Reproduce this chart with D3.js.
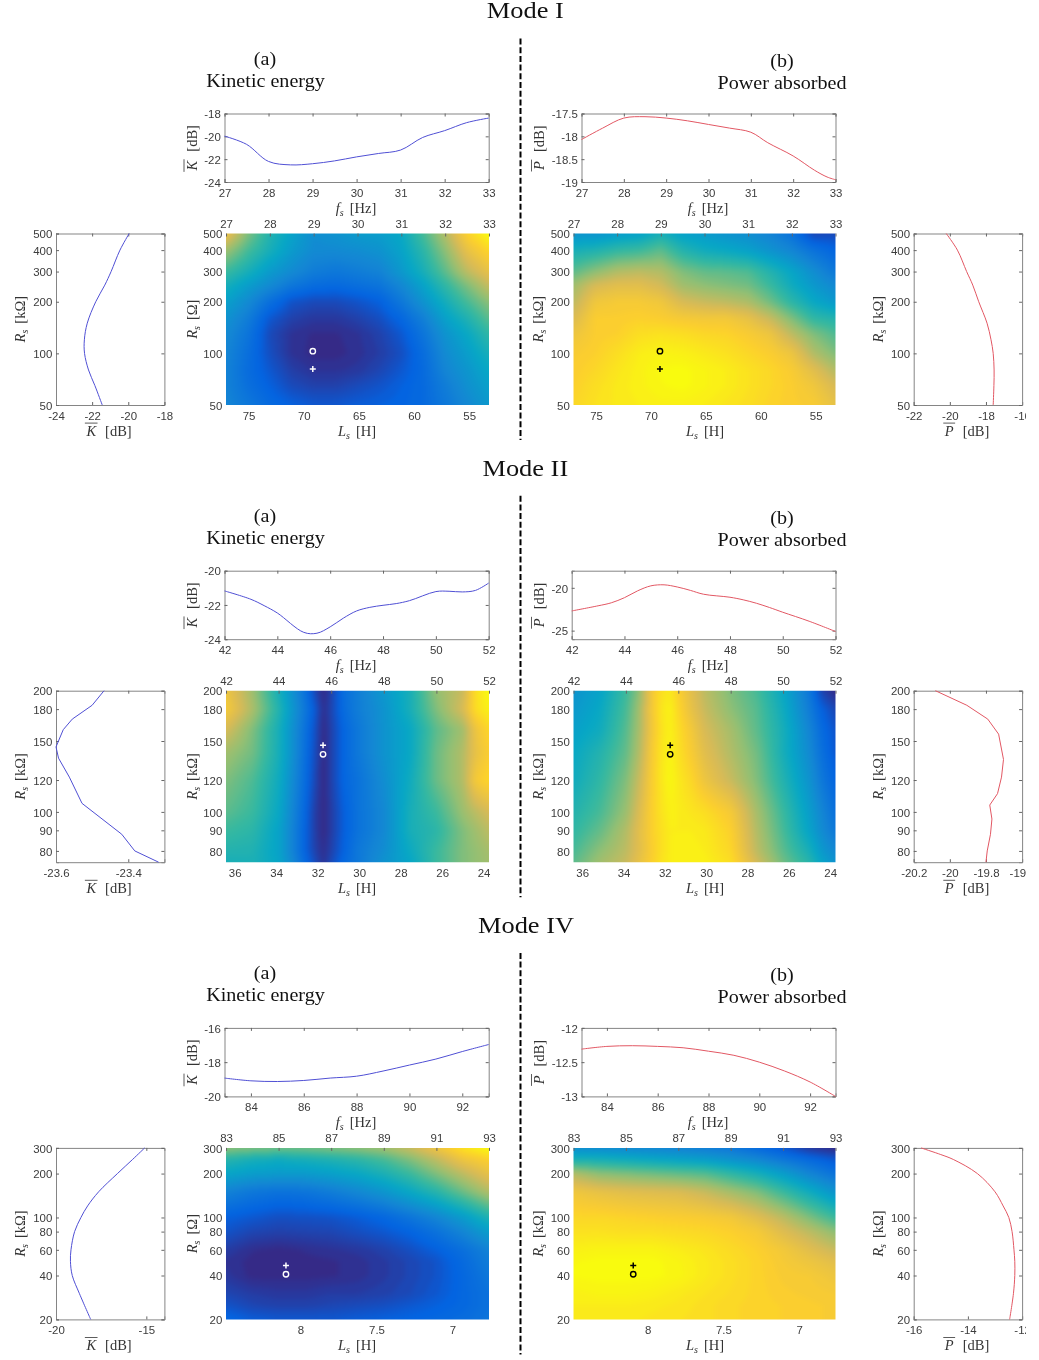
<!DOCTYPE html>
<html>
<head>
<meta charset="utf-8">
<script src="https://cdn.jsdelivr.net/npm/d3@7"></script>
<style>
body { margin: 0; padding: 0; background: #fff; }
svg { display: block; filter: blur(0.5px); }
.tick text { font-family: "Liberation Sans", sans-serif; font-size: 10.6px; fill: #3c3c3c; }
.tick line { stroke: #666; }
.domain { stroke: #858585; }
.lab { font-family: "Liberation Serif", serif; font-size: 14.5px; fill: #333; }
.head { font-family: "Liberation Serif", serif; fill: #111; }
</style>
</head>
<body>
<script>
// ---------- Mode I data
var fsI = [27, 27.5, 28, 28.5, 29, 29.5, 30, 30.5, 31, 31.5, 32, 32.5, 33];
var kTopI = [-19.98, -20.7, -22.2, -22.5, -22.4, -22.15, -21.8, -21.5, -21.2, -20.1, -19.5, -18.8, -18.4];
var pFsI = [27, 27.5, 28, 28.5, 29, 29.5, 30, 30.5, 31, 31.4, 32, 32.5, 32.8, 33];
var pTopI = [-18.07, -17.82, -17.6, -17.57, -17.6, -17.66, -17.74, -17.82, -17.91, -18.14, -18.43, -18.74, -18.89, -18.95];
var rsI = [500, 400, 300, 250, 200, 150, 120, 100, 80, 65, 50];
var kSideI = [-19.95, -20.46, -20.95, -21.3, -21.8, -22.27, -22.43, -22.42, -22.2, -21.85, -21.44];
var pSideI = [-20.2, -19.58, -19.07, -18.73, -18.4, -17.94, -17.72, -17.6, -17.55, -17.56, -17.6];
var mapRsI = [500, 400, 300, 250, 200, 160, 130, 100, 80, 65, 50];
var kMapI = [
  [.82, .6, .45, .36, .28, .3, .33, .34, .38, .52, .68, .88, 1],
  [.65, .52, .42, .33, .27, .27, .28, .3, .36, .47, .62, .8, .9],
  [.5, .42, .33, .27, .22, .2, .22, .24, .32, .42, .55, .7, .8],
  [.42, .34, .27, .2, .16, .15, .17, .19, .26, .36, .48, .6, .72],
  [.35, .27, .17, .09, .07, .07, .09, .12, .2, .3, .41, .52, .62],
  [.3, .22, .1, .05, .03, .03, .05, .08, .14, .23, .35, .44, .55],
  [.27, .19, .07, .02, .005, .005, .02, .05, .1, .19, .3, .38, .48],
  [.25, .17, .08, .02, 0, 0, .015, .04, .08, .16, .27, .34, .42],
  [.24, .16, .1, .045, .02, .02, .03, .06, .1, .15, .25, .31, .38],
  [.24, .17, .12, .07, .05, .05, .07, .09, .12, .15, .22, .29, .35],
  [.25, .2, .15, .12, .1, .1, .11, .12, .13, .15, .2, .26, .32]
];
var pMapI = [
  [.3, .3, .33, .35, .42, .35, .33, .3, .28, .24, .18, .06, .07],
  [.42, .44, .48, .5, .55, .45, .4, .38, .35, .3, .25, .18, .13],
  [.55, .62, .68, .7, .68, .6, .56, .55, .53, .45, .37, .28, .2],
  [.65, .75, .78, .78, .74, .65, .62, .6, .58, .5, .4, .32, .26],
  [.7, .83, .85, .85, .83, .75, .72, .7, .67, .58, .47, .38, .32],
  [.76, .87, .87, .88, .87, .85, .84, .84, .8, .72, .6, .48, .45],
  [.82, .87, .88, .92, .93, .92, .9, .89, .86, .82, .7, .6, .53],
  [.86, .88, .92, .96, .98, .97, .95, .93, .9, .87, .82, .68, .6],
  [.87, .9, .94, .97, .995, 1, .98, .96, .93, .9, .86, .78, .68],
  [.88, .92, .95, .97, .99, 1, .98, .96, .93, .9, .87, .83, .75],
  [.9, .93, .95, .96, .97, .97, .96, .94, .92, .89, .87, .86, .8]
];

// ---------- Mode II data
var fsIIk = [42, 43, 43.5, 44, 45, 45.5, 46, 46.5, 47, 47.5, 48, 48.5, 49, 50, 50.5, 51, 51.5, 52];
var kTopII = [-21.18, -21.67, -22.04, -22.47, -23.6, -23.65, -23.28, -22.77, -22.35, -22.14, -22.02, -21.92, -21.75, -21.22, -21.2, -21.24, -21.15, -20.72];
var fsIIp = [42, 43, 43.5, 44, 44.5, 45, 45.5, 46, 46.5, 47, 48, 48.5, 49, 49.5, 50, 51, 52];
var pTopII = [-22.7, -22.1, -21.75, -21.15, -20.35, -19.77, -19.65, -19.9, -20.3, -20.75, -21.1, -21.4, -21.8, -22.3, -22.85, -23.9, -25.1];
var rsIIk = [200, 184, 170, 160, 145, 136, 122, 105, 88, 80, 75];
var kSideII = [-23.467, -23.5, -23.555, -23.58, -23.6, -23.593, -23.563, -23.528, -23.418, -23.382, -23.316];
var rsIIp = [200, 184, 170, 156, 135, 122, 111, 104, 96, 88, 80, 75];
var pSideII = [-20.08, -19.906, -19.79, -19.73, -19.703, -19.714, -19.736, -19.779, -19.767, -19.775, -19.793, -19.8];
var mapFsII = [42, 43, 44, 44.5, 45, 45.4, 45.7, 46, 46.5, 47, 48, 49, 50, 51, 51.5, 52];
var mapRsII = [200, 180, 160, 140, 120, 100, 90, 80, 75];
var kMapII = [
  [.82, .65, .42, .3, .18, .06, 0, .05, .17, .22, .32, .42, .63, .72, .92, 1],
  [.85, .67, .45, .32, .2, .1, .01, .06, .16, .22, .3, .42, .6, .75, .92, .97],
  [.75, .6, .42, .3, .18, .08, 0, .05, .14, .2, .3, .38, .55, .65, .82, .9],
  [.65, .58, .42, .3, .17, .07, 0, .05, .14, .2, .3, .38, .57, .68, .8, .87],
  [.6, .53, .4, .28, .16, .06, 0, .05, .14, .18, .28, .4, .57, .68, .85, .9],
  [.55, .5, .38, .26, .14, .04, 0, .04, .12, .18, .26, .42, .5, .64, .7, .75],
  [.5, .47, .36, .25, .13, .04, 0, .04, .12, .18, .26, .42, .47, .6, .65, .7],
  [.45, .44, .36, .25, .13, .05, .01, .05, .13, .2, .28, .39, .5, .6, .63, .66],
  [.42, .43, .37, .27, .15, .07, .02, .07, .15, .2, .3, .37, .5, .6, .63, .65]
];
var pMapII = [
  [.3, .36, .5, .62, .85, .93, .95, .88, .78, .7, .6, .52, .38, .2, .05, 0],
  [.32, .38, .52, .65, .85, .95, .97, .9, .8, .72, .62, .54, .4, .22, .12, .06],
  [.35, .4, .54, .66, .84, .94, .97, .92, .84, .75, .66, .55, .42, .25, .15, .09],
  [.38, .45, .56, .68, .86, .95, .98, .93, .86, .78, .68, .58, .42, .27, .17, .1],
  [.4, .48, .6, .72, .87, .95, .99, .95, .9, .82, .72, .6, .45, .3, .2, .13],
  [.45, .52, .64, .76, .88, .94, .97, .96, .94, .92, .85, .66, .5, .34, .25, .17],
  [.48, .56, .68, .78, .88, .93, .96, .96, .96, .95, .88, .68, .52, .36, .27, .2],
  [.52, .62, .7, .78, .87, .93, .96, .97, .97, .96, .9, .7, .55, .42, .32, .26],
  [.55, .65, .72, .8, .88, .94, .96, .97, .97, .97, .92, .74, .58, .46, .36, .3]
];

// ---------- Mode IV data
var fsIV = [83, 84, 85, 86, 87, 88, 89, 90, 91, 92, 93];
var kTopIV = [-18.93, -19.09, -19.13, -19.07, -18.93, -18.82, -18.52, -18.17, -17.82, -17.38, -16.97];
var pTopIV = [-12.31, -12.27, -12.26, -12.27, -12.29, -12.34, -12.4, -12.5, -12.63, -12.79, -13];
var rsIVk = [300, 250, 200, 150, 120, 100, 80, 60, 50, 40, 30, 20];
var kSideIV = [-15.09, -15.76, -16.6, -17.64, -18.25, -18.62, -18.97, -19.17, -19.2, -19.1, -18.7, -18.08];
var rsIVp = [300, 270, 250, 200, 150, 120, 100, 80, 60, 50, 40, 30, 20];
var pSideIV = [-15.73, -15.0, -14.54, -13.65, -13, -12.7, -12.49, -12.37, -12.3, -12.27, -12.27, -12.32, -12.46];
var mapRsIV = [300, 250, 200, 150, 100, 80, 60, 50, 40, 30, 25, 20];
var kMapIV = [
  [.62, .6, .58, .58, .6, .62, .65, .72, .82, .93, 1],
  [.46, .42, .4, .42, .44, .47, .52, .6, .7, .82, .88],
  [.37, .34, .33, .33, .35, .38, .43, .5, .6, .7, .8],
  [.24, .2, .18, .19, .22, .26, .31, .38, .46, .57, .68],
  [.12, .1, .08, .085, .09, .11, .14, .19, .25, .33, .44],
  [.09, .06, .05, .055, .06, .08, .1, .13, .18, .25, .34],
  [.04, .01, 0, .01, .02, .03, .05, .08, .12, .17, .24],
  [.02, 0, 0, 0, .005, .015, .035, .06, .09, .15, .22],
  [.03, 0, 0, 0, .005, .015, .035, .06, .09, .14, .2],
  [.06, .04, .03, .03, .04, .04, .05, .07, .1, .14, .18],
  [.09, .06, .05, .05, .06, .07, .08, .1, .12, .14, .18],
  [.14, .11, .1, .1, .1, .11, .12, .13, .14, .16, .19]
];
var pMapIV = [
  [.28, .27, .26, .25, .24, .22, .2, .15, .1, .03, 0],
  [.43, .42, .4, .38, .36, .34, .3, .26, .2, .15, .1],
  [.68, .62, .6, .58, .56, .54, .48, .42, .34, .25, .18],
  [.83, .8, .78, .77, .76, .72, .66, .6, .5, .4, .3],
  [.9, .9, .89, .88, .87, .86, .84, .78, .7, .6, .5],
  [.93, .93, .92, .92, .91, .9, .88, .85, .77, .7, .62],
  [.97, .98, .98, .98, .96, .94, .91, .88, .84, .78, .72],
  [.99, 1, 1, 1, .98, .95, .92, .89, .85, .82, .78],
  [.995, 1, 1, 1, .985, .95, .92, .89, .86, .85, .82],
  [.97, .98, .98, .97, .95, .93, .91, .89, .87, .86, .85],
  [.96, .96, .96, .95, .94, .92, .9, .89, .88, .87, .86],
  [.95, .95, .95, .94, .93, .92, .9, .89, .88, .87, .86]
];

// tick labels and ranges
var modeNames = ["Mode I", "Mode II", "Mode IV"];
var fsTicks = [[27, 28, 29, 30, 31, 32, 33], [42, 44, 46, 48, 50, 52], [84, 86, 88, 90, 92]];
var fsMapTicks = [[27, 28, 29, 30, 31, 32, 33], [42, 44, 46, 48, 50, 52], [83, 85, 87, 89, 91, 93]];
var fsRange = [[27, 33], [42, 52], [83, 93]];
var lsTicks = [[75, 70, 65, 60, 55], [36, 34, 32, 30, 28, 26, 24], [8, 7.5, 7]];
var lsRange = [[77.05, 53.2], [36.42, 23.74], [8.49, 6.76]];
var rsTicks = [[50, 100, 200, 300, 400, 500], [80, 90, 100, 120, 150, 180, 200], [20, 40, 60, 80, 100, 200, 300]];
var rsRange = [[50, 500], [75, 200], [20, 300]];
var kTopRange = [[-24, -18], [-24, -20], [-20, -16]];
var kTopTicks = [[-24, -22, -20, -18], [-24, -22, -20], [-20, -18, -16]];
var pTopRange = [[-19, -17.5], [-26, -18], [-13, -12]];
var pTopTicks = [[-19, -18.5, -18, -17.5], [-25, -20], [-13, -12.5, -12]];
var kSideRange = [[-24, -18], [-23.6, -23.3], [-20, -14]];
var kSideTicks = [[-24, -22, -20, -18], [-23.6, -23.4], [-20, -15]];
var pSideRange = [[-22, -16], [-20.2, -19.6], [-16, -12]];
var pSideTicks = [[-22, -20, -18, -16], [-20.2, -20, -19.8, -19.6], [-16, -14, -12]];
var markCircle = [[28.98, 103], [45.69, 139], [85.28, 40.8]];
var markPlus = [[28.98, 81], [45.69, 146.5], [85.28, 46.9]];
var mapUnitK = ["[\u03a9]", "[k\u03a9]", "[\u03a9]"];

// parula colour map
var parulaStops = [0, .125, .25, .375, .5, .625, .75, .875, 1];
var parulaColors = ["#352a87", "#0363e1", "#1485d4", "#06a7c6", "#38b99e", "#92bf73", "#d9ba56", "#fcce2e", "#f9fb0e"];
var parula = d3.scaleLinear().domain(parulaStops).range(parulaColors);

var rows = [
  { fsK: fsI, fsP: pFsI, kTop: kTopI, pTop: pTopI, rsK: rsI, rsP: rsI, kSide: kSideI, pSide: pSideI, mapFs: fsI, mapRs: mapRsI, kMap: kMapI, pMap: pMapI },
  { fsK: fsIIk, fsP: fsIIp, kTop: kTopII, pTop: pTopII, rsK: rsIIk, rsP: rsIIp, kSide: kSideII, pSide: pSideII, mapFs: mapFsII, mapRs: mapRsII, kMap: kMapII, pMap: pMapII },
  { fsK: fsIV, fsP: fsIV, kTop: kTopIV, pTop: pTopIV, rsK: rsIVk, rsP: rsIVp, kSide: kSideIV, pSide: pSideIV, mapFs: fsIV, mapRs: mapRsIV, kMap: kMapIV, pMap: pMapIV }
];

// layout (px)
var rowStep = 457.2;
var topY = 113.5, topH = 68.5, mapY = 233.5, mapH = 171.5;
var left = { topX: 224.5, topW: 264.2, mapX: 226, mapW: 263, sideX: 56, sideW: 108.4, topLab: 196.5, mapLab: 196.5, sideLab: 25, topC: 356, mapC: 357, sideC: 109 };
var right = { topX: 581.5, topW: 254, mapX: 573.5, mapW: 262, sideX: 913.7, sideW: 108.4, topLab: 544, mapLab: 543, sideLab: 883, topC: 708, mapC: 705, sideC: 967 };
var stretch = 1.08;   // the source image is a little wider than tall, text too

var svg = d3.select("body").append("svg").attr("width", 1026).attr("height", 1360);
var defs = svg.append("defs");
var clipCount = 0;

// italic symbol + subscript + unit, optional bar on top of the symbol
function axisLabel(x, y, rot, sym, sub, unit, bar) {
  var g = svg.append("g").attr("transform", "translate(" + x + "," + y + ") rotate(" + rot + ")");
  var t = g.append("text").attr("class", "lab").attr("text-anchor", "middle");
  t.append("tspan").attr("font-style", "italic").text(sym);
  if (sub) t.append("tspan").attr("font-style", "italic").attr("font-size", 10).attr("dy", 3).text(sub);
  t.append("tspan").attr("dy", sub ? -3 : 0).attr("dx", sub ? 6 : 9).text(unit);
  if (bar) {
    var e = t.node().getExtentOfChar(0);
    g.append("line").attr("x1", e.x - 1.5).attr("x2", e.x + e.width + 1.5).attr("y1", -12.5).attr("y2", -12.5)
      .attr("stroke", "#333").attr("stroke-width", 0.8);
  }
}

function styleAxis(g) { g.selectAll(".domain").attr("stroke-width", 1); return g; }

// frame with inward ticks on all four sides
function frame(g, x, y, xt, yt) {
  var w = x.range()[1], h = y.range()[0];
  styleAxis(g.append("g").attr("class", "xb").attr("transform", "translate(0," + h + ")")
    .call(d3.axisBottom(x).tickValues(xt).tickSize(-3).tickPadding(7).tickFormat(function (d) { return d; })));
  styleAxis(g.append("g").call(d3.axisTop(x).tickValues(xt).tickSize(-3).tickFormat("")));
  styleAxis(g.append("g").call(d3.axisLeft(y).tickValues(yt).tickSize(-3).tickPadding(3.7).tickFormat(function (d) { return d; })));
  styleAxis(g.append("g").attr("transform", "translate(" + w + ",0)").call(d3.axisRight(y).tickValues(yt).tickSize(-3).tickFormat("")));
}

function drawTop(y0, c, i, xs, ys, dom, yt, color, sym, tx) {
  var w = (tx === undefined ? c.topW : 835.5 - tx);
  var px = tx === undefined ? c.topX : tx;
  var g = svg.append("g").attr("transform", "translate(" + px + "," + (y0 + topY) + ")");
  var x = d3.scaleLinear().domain(fsRange[i]).range([0, w]);
  var y = d3.scaleLinear().domain(dom).range([topH, 0]);
  frame(g, x, y, fsTicks[i], yt);
  g.append("path").datum(d3.zip(xs, ys)).attr("fill", "none").attr("stroke", color).attr("stroke-width", 1)
    .attr("d", d3.line().x(function (d) { return x(d[0]); }).y(function (d) { return y(d[1]); }).curve(d3.curveCatmullRom.alpha(0.5)));
  axisLabel(c.topLab, y0 + topY + topH / 2, -90, sym, null, "[dB]", true);
  axisLabel(c.topC, y0 + 212.7, 0, "f", "s", "[Hz]", false);
}

function drawSide(y0, c, i, rs, vals, dom, xt, color, sym) {
  var g = svg.append("g").attr("transform", "translate(" + c.sideX + "," + (y0 + mapY) + ")");
  var x = d3.scaleLinear().domain(dom).range([0, c.sideW]);
  var y = d3.scaleLog().domain(rsRange[i]).range([mapH, 0]);
  frame(g, x, y, xt, rsTicks[i]);
  g.append("path").datum(d3.zip(rs, vals)).attr("fill", "none").attr("stroke", color).attr("stroke-width", 1)
    .attr("d", d3.line().x(function (d) { return x(d[1]); }).y(function (d) { return y(d[0]); })
      .curve(i === 1 ? d3.curveLinear : d3.curveCatmullRom.alpha(0.5)));
  axisLabel(c.sideLab, y0 + mapY + mapH / 2, -90, "R", "s", "[k\u03a9]", false);
  axisLabel(c.sideC, y0 + 435.6, 0, sym, null, "[dB]", true);
}

function lookup(arr, v) {
  // fractional index of v inside an ascending array
  var j = Math.min(arr.length - 2, Math.max(0, d3.bisectRight(arr, v) - 1));
  return [j, Math.max(0, Math.min(1, (v - arr[j]) / (arr[j + 1] - arr[j])))];
}

function drawMap(y0, c, i, grid, markColor, unit) {
  var r = rows[i];
  var w = c.mapW, h = mapH, pad = 6;
  var g = svg.append("g").attr("transform", "translate(" + c.mapX + "," + (y0 + mapY) + ")");
  var x = d3.scaleLinear().domain(fsRange[i]).range([0, w]);
  var ls = d3.scaleLinear().domain(lsRange[i]).range([0, w]);
  var y = d3.scaleLog().domain(rsRange[i]).range([h, 0]);

  // shade the grid into a bitmap, rows of the grid run from high to low Rs
  var logRs = r.mapRs.map(function (d) { return Math.log10(d); }).reverse();
  var cw = Math.round(w) + pad * 2, ch = Math.round(h) + pad * 2;
  var canvas = document.createElement("canvas");
  canvas.width = cw; canvas.height = ch;
  var ctx = canvas.getContext("2d");
  var img = ctx.createImageData(cw, ch);
  var last = grid.length - 1;
  for (var py = 0; py < ch; py++) {
    var rv = Math.log10(y.invert(Math.max(0, Math.min(h, py - pad + 0.5))));
    var a = lookup(logRs, rv);
    for (var px = 0; px < cw; px++) {
      var b = lookup(r.mapFs, x.invert(Math.max(0, Math.min(w, px - pad + 0.5))));
      var lo = grid[last - a[0]], hi = grid[last - a[0] - 1];
      var v0 = lo[b[0]] + (lo[b[0] + 1] - lo[b[0]]) * b[1];
      var v1 = hi[b[0]] + (hi[b[0] + 1] - hi[b[0]]) * b[1];
      var v = v0 + (v1 - v0) * a[1];
      var col = d3.rgb(parula(Math.round(v * 63) / 63));
      var k = (py * cw + px) * 4;
      img.data[k] = col.r; img.data[k + 1] = col.g; img.data[k + 2] = col.b; img.data[k + 3] = 255;
    }
  }
  ctx.putImageData(img, 0, 0);

  var id = "clip" + (clipCount++);
  defs.append("clipPath").attr("id", id).append("rect").attr("width", w).attr("height", h);
  g.append("g").attr("clip-path", "url(#" + id + ")").append("image")
    .attr("href", canvas.toDataURL()).attr("x", -pad).attr("y", -pad)
    .attr("width", cw).attr("height", ch).attr("preserveAspectRatio", "none")
    .style("filter", "blur(2.5px)");

  g.append("g").call(d3.axisTop(x).tickValues(fsMapTicks[i]).tickSize(-3).tickPadding(5.5).tickFormat(d3.format("d")))
    .call(function (s) { s.select(".domain").remove(); });
  g.append("g").attr("transform", "translate(0," + h + ")")
    .call(d3.axisBottom(ls).tickValues(lsTicks[i]).tickSize(0).tickPadding(7).tickFormat(function (d) { return d; }))
    .call(function (s) { s.select(".domain").remove(); });
  g.append("g").call(d3.axisLeft(y).tickValues(rsTicks[i]).tickSize(0).tickPadding(3.7).tickFormat(function (d) { return d; }))
    .call(function (s) { s.select(".domain").remove(); });

  g.append("circle").attr("cx", x(markCircle[i][0])).attr("cy", y(markCircle[i][1])).attr("r", 2.7)
    .attr("fill", "none").attr("stroke", markColor).attr("stroke-width", 1.4);
  g.append("path").attr("transform", "translate(" + x(markPlus[i][0]) + "," + y(markPlus[i][1]) + ")")
    .attr("d", "M-3,0H3M0,-3V3").attr("stroke", markColor).attr("stroke-width", 1.5);

  axisLabel(c.mapLab, y0 + mapY + mapH / 2, -90, "R", "s", unit, false);
  axisLabel(c.mapC, y0 + 435.6, 0, "L", "s", "[H]", false);
}

function heading(x, y, size, sx, txt) {
  svg.append("text").attr("class", "head").attr("font-size", size)
    .attr("transform", "translate(" + x + "," + y + ") scale(" + sx + ",1)")
    .attr("text-anchor", "middle").text(txt);
}

modeNames.forEach(function (name, i) {
  var y0 = i * rowStep;
  var r = rows[i];
  heading(i === 2 ? 526 : 525.3, y0 + 18.3, 23.7, 1.115, name);
  heading(265, y0 + 65, 19, 1.06, "(a)");
  heading(265.5, y0 + 87, 19, 1.06, "Kinetic energy");
  heading(782, y0 + 66.7, 19, 1.06, "(b)");
  heading(782, y0 + 88.5, 19, 1.06, "Power absorbed");

  svg.append("line").attr("x1", 520.5).attr("x2", 520.5).attr("y1", y0 + 38.5).attr("y2", y0 + 440)
    .attr("stroke", "#000").attr("stroke-width", 2).attr("stroke-dasharray", "6 2.7");

  drawTop(y0, left, i, r.fsK, r.kTop, kTopRange[i], kTopTicks[i], "#4f4fd4", "K");
  drawTop(y0, right, i, r.fsP, r.pTop, pTopRange[i], pTopTicks[i], "#e25763", "P", i === 1 ? 571.7 : undefined);
  drawMap(y0, left, i, r.kMap, "#fff", mapUnitK[i]);
  drawMap(y0, right, i, r.pMap, "#000", "[k\u03a9]");
  drawSide(y0, left, i, r.rsK, r.kSide, kSideRange[i], kSideTicks[i], "#4f4fd4", "K");
  drawSide(y0, right, i, r.rsP, r.pSide, pSideRange[i], pSideTicks[i], "#e25763", "P");
});

// widen tick labels around their anchor
svg.selectAll(".tick text").each(function () {
  var ax = +this.getAttribute("x") || 0;
  d3.select(this).attr("transform", "translate(" + ax + ",0) scale(" + stretch + ",1) translate(" + (-ax) + ",0)");
  if (this.getAttribute("dy") === "0.32em") this.setAttribute("dy", "0.4em");
});
</script>
</body>
</html>
